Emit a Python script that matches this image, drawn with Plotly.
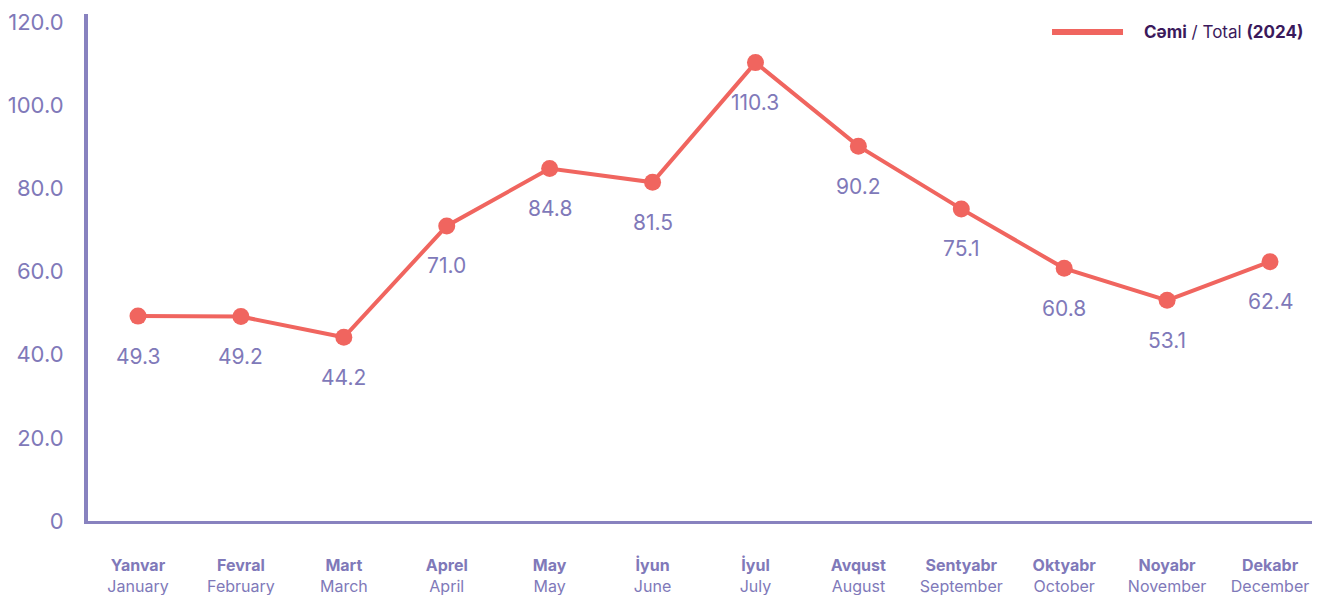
import plotly.graph_objects as go

months_az = ["Yanvar", "Fevral", "Mart", "Aprel", "May", "İyun", "İyul", "Avqust", "Sentyabr", "Oktyabr", "Noyabr", "Dekabr"]
months_en = ["January", "February", "March", "April", "May", "June", "July", "August", "September", "October", "November", "December"]
values = [49.3, 49.2, 44.2, 71.0, 84.8, 81.5, 110.3, 90.2, 75.1, 60.8, 53.1, 62.4]
y_ticks = [0, 20, 40, 60, 80, 100, 120]
y_ticktext = ["0", "20.0", "40.0", "60.0", "80.0", "100.0", "120.0"]
series_name = "<b>Cəmi</b> / Total <b>(2024)</b>"

AXIS = "#8882bf"
LINE = "#f0655f"
TEXT = "#8079b9"
FONT = "Inter"

x = list(range(len(values)))
fig = go.Figure()
fig.add_trace(go.Scatter(
    x=x, y=values, mode="lines+markers",
    line=dict(color=LINE, width=4),
    marker=dict(color=LINE, size=17),
    showlegend=False, hoverinfo="skip",
))

for xi, v in zip(x, values):
    fig.add_annotation(x=xi, y=v, text=f"{v:.1f}", showarrow=False, yshift=-40,
                       font=dict(family=FONT, size=21, color=TEXT))

# legend swatch + text
fig.add_shape(type="line", xref="paper", yref="paper", x0=0.7876, x1=0.8456, y0=0.9645, y1=0.9645,
              line=dict(color=LINE, width=6))
fig.add_annotation(xref="paper", yref="paper", x=0.9943, y=0.9645, xanchor="right", yanchor="middle",
                   text=series_name, showarrow=False,
                   font=dict(family=FONT, size=17, color="#3b1a5c"))

fig.update_xaxes(
    range=[-0.486, 11.408],
    tickvals=x,
    ticktext=[f"<b>{a}</b><br>{e}" for a, e in zip(months_az, months_en)],
    tickfont=dict(family=FONT, size=16, color=TEXT),
    showline=True, linecolor=AXIS, linewidth=3,
    showgrid=False, zeroline=False, ticks="", ticklabelstandoff=28,
    automargin=False,
)
fig.update_yaxes(
    range=[0, 122],
    tickvals=y_ticks, ticktext=y_ticktext,
    tickfont=dict(family=FONT, size=22, color=TEXT),
    showline=True, linecolor=AXIS, linewidth=4,
    showgrid=False, zeroline=False, ticks="", ticklabelstandoff=16,
    automargin=False,
)
fig.update_layout(
    width=1314, height=587,
    margin=dict(l=80, r=10, t=6, b=74),
    plot_bgcolor="white", paper_bgcolor="white",
    font=dict(family=FONT, color=TEXT),
)
fig.write_html("out.html")
